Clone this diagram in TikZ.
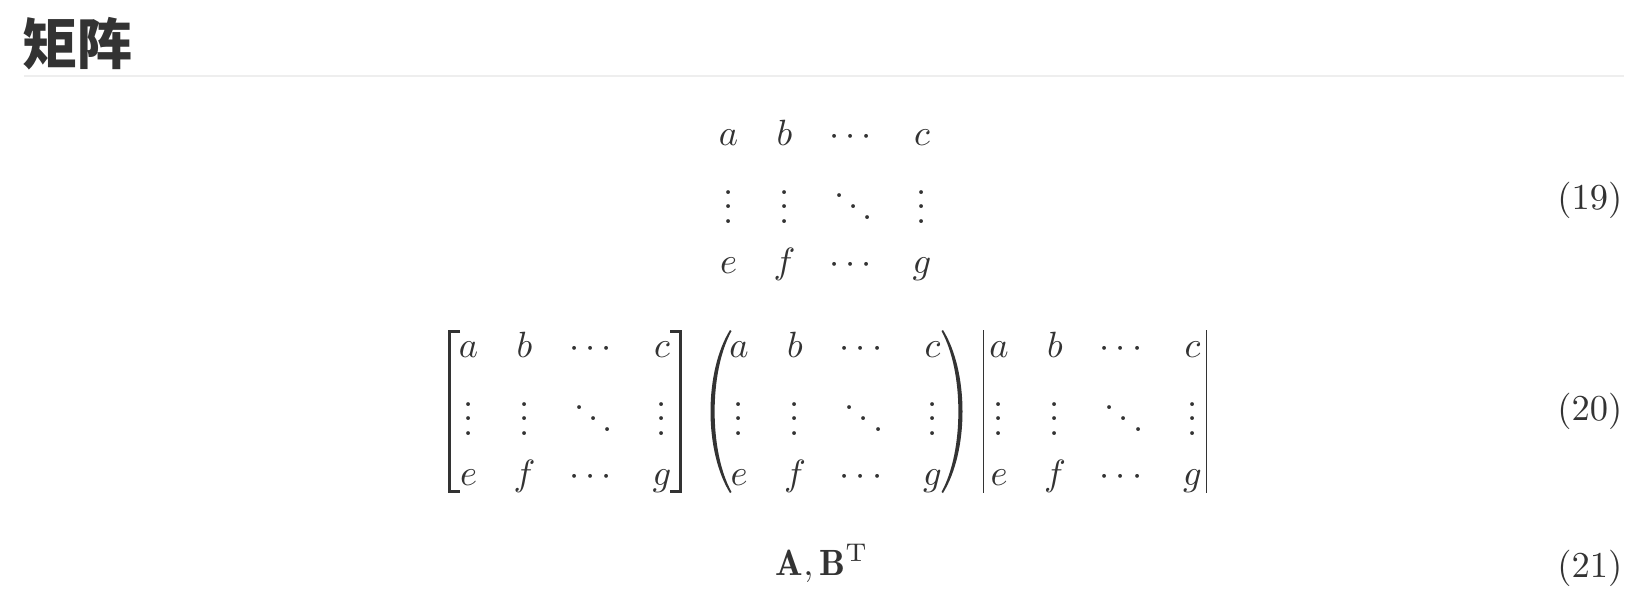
\documentclass[tikz,border=0pt]{standalone}
\usepackage{amsmath,amssymb}
\usepackage{fontspec}
\newfontfamily\cjk{Noto Sans CJK SC}
\usepackage{tikz}
\definecolor{ink}{HTML}{333333}
\definecolor{rulegray}{HTML}{EEEEEE}

\begin{document}
\begin{tikzpicture}[x=1pt, y=-1pt, color=ink,
        entry/.style={anchor=base, inner sep=0pt, scale=3.65},
        bar/.style={line width=1.4pt}]
        \useasboundingbox (0,0) rectangle (1630,598);

        \node[anchor=base west, inner sep=0pt, font=\cjk\bfseries\fontsize{55}{66}\selectfont] (title) at (22.8,64) {矩阵};
        \draw[rulegray, line width=2pt] (24,76) -- (1624,76);

        % matrices: x of first column / baseline of first row
        \foreach \mx/\my [count=\k] in {728.5/145, 468.5/357, 739/357, 999/357} {
            \foreach \dx/\e [count=\j] in {0/a, 56/b, 125/\cdots, 193.5/c} {
                \node[entry] (m\k-1-\j) at (\mx+\dx,\my) {$\e$};
            }
            \foreach \dx/\e [count=\j] in {0/\vdots, 56/\vdots, 125/\ddots, 193.5/\vdots} {
                \node[entry] (m\k-2-\j) at (\mx+\dx,\my+78.5) {$\smash{\e}$};
            }
            \foreach \dx/\e [count=\j] in {0/e, 56/f, 125/\cdots, 193.5/g} {
                \node[entry] (m\k-3-\j) at (\mx+\dx,\my+128) {$\e$};
            }
        }

        % brackets
        \draw[line width=3pt] (460,331.5) -- (449,331.5) -- (449,491.5) -- (460,491.5);
        \draw[line width=3pt] (670,331.5) -- (680.5,331.5) -- (680.5,491.5) -- (670,491.5);

        % parentheses
        \fill (730,330) .. controls (704,372) and (704,451) .. (730,493)
            -- (731.5,492) .. controls (709,451) and (709,372) .. (731.5,331) -- cycle;
        \fill (943,330) .. controls (969,372) and (969,451) .. (943,493)
            -- (941.5,492) .. controls (964,451) and (964,372) .. (941.5,331) -- cycle;

        % bars
        \draw[bar] (983.5,330) -- (983.5,493);
        \draw[bar] (1206.5,330) -- (1206.5,493);

        \node[entry, anchor=base west] (eq21) at (775,575) {$\mathbf{A},\mathbf{B}^{\mathrm{T}}$};

        \foreach \n/\y in {19/209, 20/420, 21/577} {
            \node[entry, anchor=base east] (n\n) at (1623,\y) {$(\n)$};
        }
\end{tikzpicture}
\end{document}
